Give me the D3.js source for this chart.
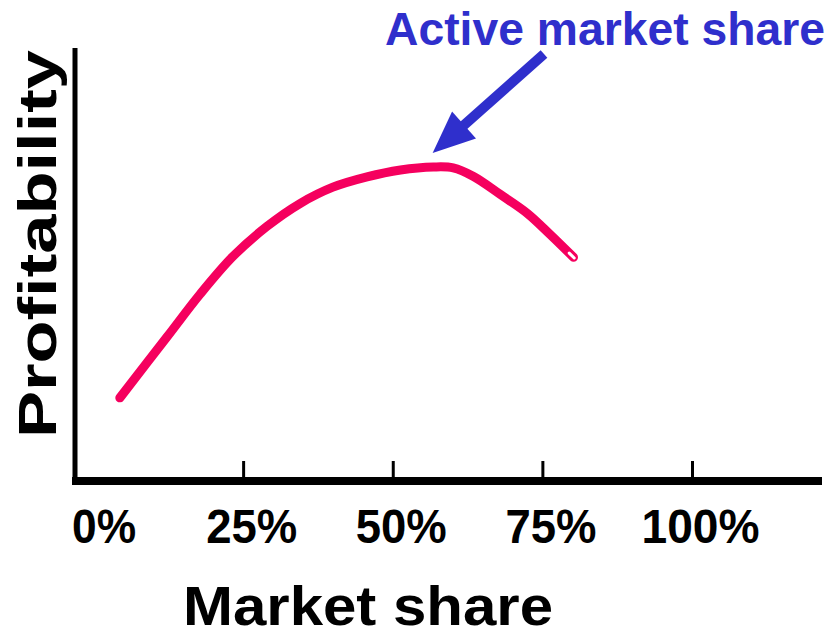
<!DOCTYPE html>
<html>
<head>
<meta charset="utf-8">
<script src="https://cdn.jsdelivr.net/npm/d3@7"></script>
<style>
  html, body { margin: 0; padding: 0; background: #fff; }
  svg { display: block; font-family: "Liberation Sans", Arial, sans-serif; font-weight: bold; }
</style>
</head>
<body>
<div id="chart"></div>
<script>
'use strict';

// Marktanteil in %, Profitabilität (relative Skala 0–100)
const shareValues = [4.4, 12.3, 17.8, 23.3, 29.0, 34.5, 40.0, 45.7, 51.3, 56.8, 60.1, 63.5, 68.0, 72.5, 76.3, 80.2];
const profitValues = [19.1, 33.3, 43.2, 52.0, 59.0, 64.3, 68.1, 70.5, 72.1, 72.8, 72.6, 70.6, 66.4, 62.0, 57.1, 51.8];
const tickValues = [0, 25, 50, 75, 100];
const tickLabels = ['0%', '25%', '50%', '75%', '100%'];
const peakShare = 57;   // wo der Pfeil hinzeigt

const width = 833;
const height = 637;

const svg = d3.select('#chart')
  .append('svg')
  .attr('width', width)
  .attr('height', height);

const x = d3.scaleLinear().domain([0, 100]).range([93.5, 692]);
const y = d3.scaleLinear().domain([0, 100]).range([480, 50]);

// ------------------------------------------
// Achsen
// ------------------------------------------
const xAxis = d3.axisBottom(x)
  .tickValues(tickValues)
  .tickSize(-20)
  .tickFormat((d, i) => tickLabels[i]);

const gx = svg.append('g')
  .attr('transform', 'translate(0,481)')
  .call(xAxis);

gx.select('.domain').remove();
gx.selectAll('.tick line')
  .attr('stroke', '#000')
  .attr('stroke-width', 3)
  .attr('opacity', d => d === 0 ? 0 : 1);
gx.selectAll('.tick text')
  .attr('fill', '#000')
  .attr('font-size', 48)
  .attr('font-family', '"Liberation Sans", Arial, sans-serif')
  .attr('font-weight', 'bold')
  .attr('dy', null)
  .attr('x', d => d === 0 ? 10 : 8)
  .attr('y', 62)
  .attr('textLength', d => d === 100 ? 118 : (d === 0 ? 64 : 91))
  .attr('lengthAdjust', 'spacingAndGlyphs');

// Achsenlinien
svg.append('line')
  .attr('x1', 75).attr('x2', 75)
  .attr('y1', 48).attr('y2', 484)
  .attr('stroke', '#000')
  .attr('stroke-width', 5);

svg.append('line')
  .attr('x1', 72).attr('x2', 822)
  .attr('y1', 481).attr('y2', 481)
  .attr('stroke', '#000')
  .attr('stroke-width', 8);

// ------------------------------------------
// Kurve
// ------------------------------------------
const pts = shareValues.map((s, i) => [x(s), y(profitValues[i])]);
const line = d3.line().curve(d3.curveCatmullRom.alpha(0.5));

svg.append('path')
  .attr('d', line(pts))
  .attr('fill', 'none')
  .attr('stroke', '#f5005e')
  .attr('stroke-width', 9)
  .attr('stroke-linecap', 'round')
  .attr('stroke-linejoin', 'round');

// kleines hohles Ende
const pA = pts[pts.length - 2];
const pB = pts[pts.length - 1];
const ang = Math.atan2(pB[1] - pA[1], pB[0] - pA[0]);
svg.append('line')
  .attr('x1', pB[0] - Math.cos(ang) * 6)
  .attr('y1', pB[1] - Math.sin(ang) * 6)
  .attr('x2', pB[0] + Math.cos(ang) * 1)
  .attr('y2', pB[1] + Math.sin(ang) * 1)
  .attr('stroke', '#fff')
  .attr('stroke-width', 3)
  .attr('stroke-linecap', 'round');

// ------------------------------------------
// Pfeil + Beschriftung
// ------------------------------------------
const arrowColor = '#2f2fcc';
const tip = [x(peakShare) - 2, y(profitValues[9]) - 14];
const tail = [544, 54];
const a = Math.atan2(tip[1] - tail[1], tip[0] - tail[0]);
const headLen = 42;
const headHalf = 18;
const base = [tip[0] - Math.cos(a) * headLen, tip[1] - Math.sin(a) * headLen];

svg.append('line')
  .attr('x1', tail[0]).attr('y1', tail[1])
  .attr('x2', base[0] + Math.cos(a) * 4).attr('y2', base[1] + Math.sin(a) * 4)
  .attr('stroke', arrowColor)
  .attr('stroke-width', 10);

svg.append('path')
  .attr('d', d3.line()([
    tip,
    [base[0] + Math.sin(a) * headHalf, base[1] - Math.cos(a) * headHalf],
    [base[0] - Math.sin(a) * headHalf, base[1] + Math.cos(a) * headHalf]
  ]) + 'Z')
  .attr('fill', arrowColor);

svg.append('text')
  .attr('x', 385)
  .attr('y', 45)
  .attr('font-size', 46)
  .attr('fill', arrowColor)
  .attr('textLength', 440)
  .attr('lengthAdjust', 'spacingAndGlyphs')
  .text('Active market share');

// Achsentitel
svg.append('text')
  .attr('transform', 'translate(56,438) rotate(-90)')
  .attr('font-size', 54)
  .attr('fill', '#000')
  .attr('textLength', 388)
  .attr('lengthAdjust', 'spacingAndGlyphs')
  .text('Profitability');

svg.append('text')
  .attr('x', 183)
  .attr('y', 625)
  .attr('font-size', 56)
  .attr('fill', '#000')
  .attr('textLength', 370)
  .attr('lengthAdjust', 'spacingAndGlyphs')
  .text('Market share');
</script>
</body>
</html>
